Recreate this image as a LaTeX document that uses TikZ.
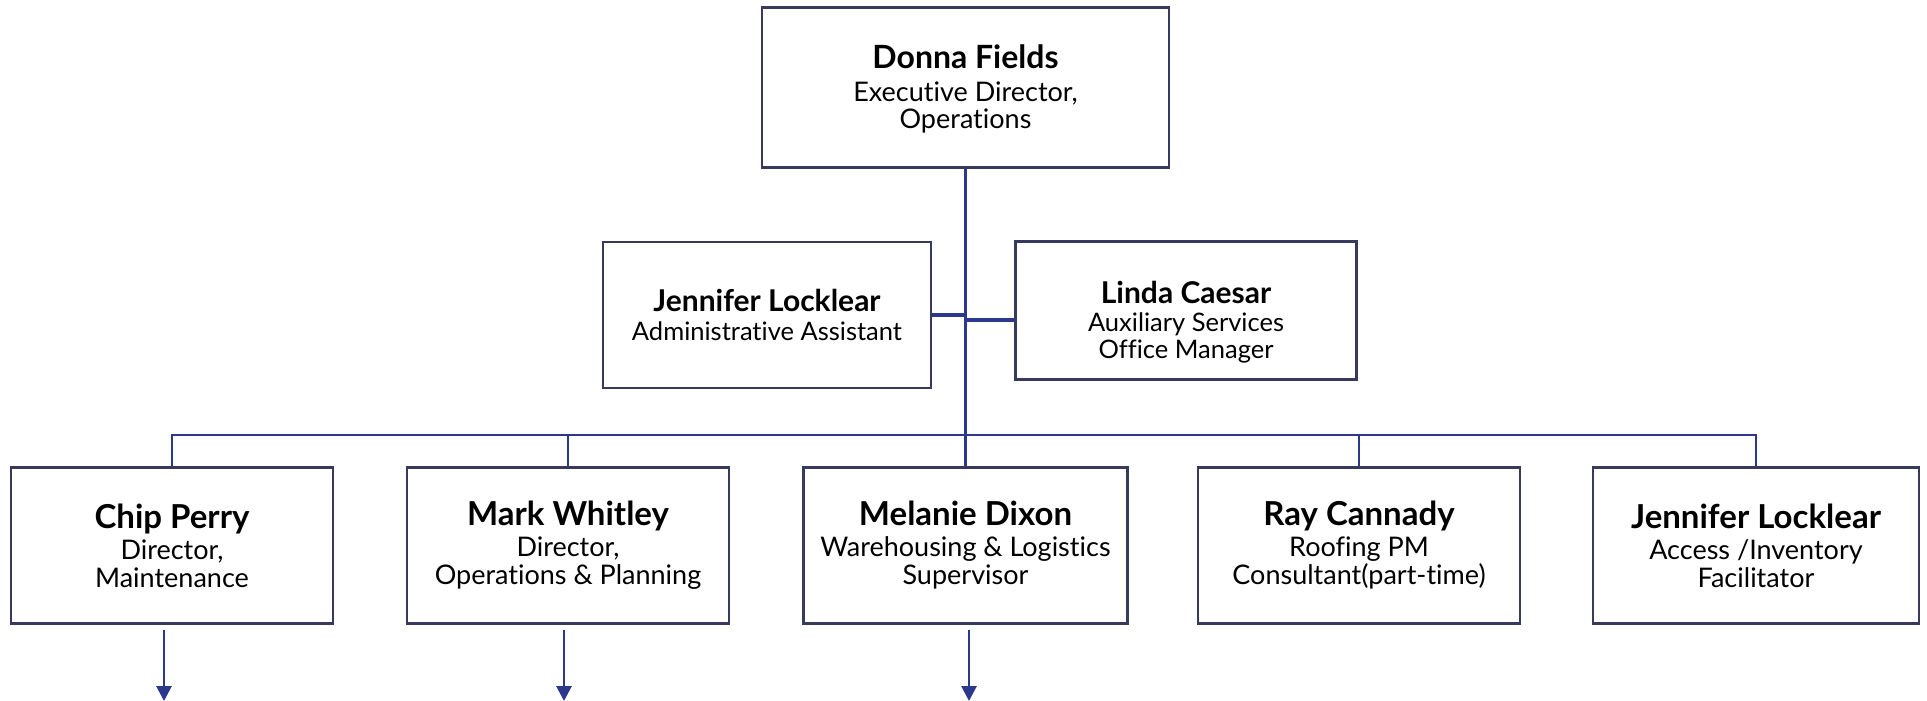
\documentclass[tikz,border=0pt]{standalone}
\usepackage{fontspec}
\setmainfont{Lato}[Ligatures={NoCommon}]
\usetikzlibrary{arrows.meta,calc}
\definecolor{navy}{RGB}{44,56,140}
\definecolor{boxc}{RGB}{55,58,92}
\newcommand\nmT[1]{{\fontsize{32}{32}\selectfont\bfseries #1}}
\newcommand\nmM[1]{{\fontsize{30}{30}\selectfont\bfseries #1}}
\newcommand\nmB[1]{{\fontsize{33}{33}\selectfont\bfseries #1}}
\begin{document}
\begin{tikzpicture}[x=1pt,y=-1pt,
  box/.style={draw=boxc,line width=2.8pt,fill=white,inner sep=0pt,align=center},
  txt/.style={inner sep=0pt,align=center},
  topfont/.style={font=\fontsize{27}{27}\selectfont},
  midfont/.style={font=\fontsize{25.5}{27}\selectfont},
  botfont/.style={font=\fontsize{27}{28}\selectfont},
  link/.style={draw=navy,line width=3.2pt},
  busline/.style={draw=navy,line width=2.5pt},
  arr/.style={draw=navy,line width=2.8pt,-{Triangle[length=15pt,width=15pt]}}]
\useasboundingbox (0,0) rectangle (1927,701);
\fill[white] (0,0) rectangle (1927,701);

\node[box,minimum width=407pt,minimum height=160pt] (top) at (965.5,87.5) {};
\node[txt,topfont] (topT) at (965.5,89)
  {\nmT{Donna Fields}\\[6pt]Executive Director,\\Operations};

\node[box,midfont,minimum width=328pt,minimum height=146pt] (admin) at (767,315)
  {\nmM{Jennifer Locklear}\\[2pt]Administrative Assistant};
\node[box,minimum width=341pt,minimum height=138pt] (linda) at (1186,310.5) {};
\node[txt,midfont] (lindaT) at (1186,322)
  {\nmM{Linda Caesar}\\[1pt]Auxiliary Services\\Office Manager};

\node[box,botfont,minimum width=322pt,minimum height=156pt] (chip) at (172,545.5)
  {\nmB{Chip Perry}\\[3pt]Director,\\Maintenance};
\node[box,botfont,minimum width=322pt,minimum height=156pt] (mark) at (568,545.5)
  {\nmB{Mark Whitley}\\[3pt]Director,\\Operations \& Planning};
\node[box,botfont,minimum width=324pt,minimum height=156pt] (mel) at (965.5,545.5)
  {\nmB{Melanie Dixon}\\[3pt]Warehousing \& Logistics\\Supervisor};
\node[box,botfont,minimum width=322pt,minimum height=156pt] (ray) at (1359,545.5)
  {\nmB{Ray Cannady}\\[3pt]Roofing PM\\Consultant(part-time)};
\node[box,botfont,minimum width=326pt,minimum height=156pt] (jen) at (1756,545.5)
  {\nmB{Jennifer Locklear}\\[3pt]Access /Inventory\\Facilitator};

% main trunk
\draw[link] (top.south) -- (mel.north);
\draw[link] (admin.east) -- (admin.east -| top.south);
\draw[link] ([yshift=-9.5pt]linda.west) -- ([yshift=-9.5pt]linda.west -| top.south);

% bus
\coordinate (bus) at (965.5,435);
\draw[busline] (chip.north) |- (bus);
\draw[busline] (mark.north) |- (bus);
\draw[busline] (ray.north) |- (bus);
\draw[busline] (jen.north) |- (bus);

% outgoing arrows
\coordinate (chipEnd) at (164,701);
\coordinate (markEnd) at (564,701);
\coordinate (melEnd) at (969,701);
\draw[arr,shorten <=5pt] (chip.south -| chipEnd) -- (chipEnd);
\draw[arr,shorten <=5pt] (mark.south -| markEnd) -- (markEnd);
\draw[arr,shorten <=5pt] (mel.south -| melEnd) -- (melEnd);
\end{tikzpicture}
\end{document}
